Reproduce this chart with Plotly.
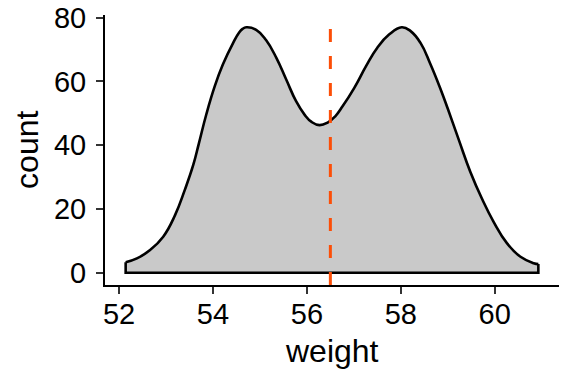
import plotly.graph_objects as go

# Density curve (scaled to count)
weight = [52.14, 52.38, 52.66, 52.94, 53.19, 53.40, 53.58, 53.70, 53.86, 54.04,
          54.21, 54.43, 54.55, 54.63, 54.71, 54.92, 55.13, 55.35, 55.56, 55.77, 55.95,
          56.10, 56.27, 56.45, 56.60, 56.76, 57.01, 57.26, 57.50, 57.75, 58.02,
          58.21, 58.42, 58.63, 58.85, 59.00, 59.24, 59.48, 59.73, 59.98, 60.26,
          60.55, 60.83, 60.93]
count = [3.3, 4.5, 7.1, 11.3, 18.0, 26.0, 33.8, 40.6, 49.8, 58.6,
         65.3, 72.1, 75.2, 76.5, 77.0, 76.2, 73.0, 67.4, 60.6, 53.8, 49.6,
         47.3, 46.3, 47.2, 49.0, 52.2, 58.0, 64.8, 70.6, 74.7, 77.0,
         75.8, 72.1, 65.5, 57.5, 51.5, 41.5, 31.7, 23.2, 15.9, 9.3,
         5.0, 3.0, 2.7]
mean_weight = 56.5
x_ticks = [52, 54, 56, 58, 60]
y_ticks = [0, 20, 40, 60, 80]
x_range = [51.70, 61.37]
y_range = [-3.85, 80.85]
x_title = "weight"
y_title = "count"

FONT = "Liberation Sans, Arial, sans-serif"

fig = go.Figure()
# filled density
fig.add_trace(go.Scatter(
    x=weight, y=count, mode="lines", fill="tozeroy",
    fillcolor="#C9C9C9",
    line=dict(color="black", width=2.6, shape="spline", smoothing=1.3),
    hoverinfo="skip", showlegend=False))
# closing edges (sides + baseline)
fig.add_trace(go.Scatter(
    x=[weight[0], weight[0], weight[-1], weight[-1]],
    y=[count[0], 0, 0, count[-1]],
    mode="lines", line=dict(color="black", width=2.6),
    hoverinfo="skip", showlegend=False))
# mean line
fig.add_trace(go.Scatter(
    x=[mean_weight, mean_weight], y=[y_range[0], y_range[1]],
    mode="lines", line=dict(color="#FC4E07", width=3, dash="13px,14px"),
    hoverinfo="skip", showlegend=False))

# page body adds an 8px offset, so the figure is 8px smaller and margins shifted
fig.update_layout(
    width=568, height=376,
    margin=dict(l=97, r=17, t=7, b=99),
    plot_bgcolor="white", paper_bgcolor="white",
    font=dict(family=FONT, color="black", size=29),
    annotations=[
        dict(text=x_title, xref="paper", yref="paper", x=0.5, y=-0.243,
             xanchor="center", yanchor="middle", showarrow=False,
             font=dict(size=32)),
        dict(text=y_title, xref="paper", yref="paper", x=-0.172, y=0.5,
             xanchor="center", yanchor="middle", showarrow=False,
             textangle=-90, font=dict(size=32)),
    ],
)
fig.update_xaxes(
    range=x_range, tickvals=x_ticks, showgrid=False, zeroline=False,
    automargin=False, ticklabeloverflow="allow",
    showline=True, linecolor="black", linewidth=2,
    ticks="outside", ticklen=7, tickwidth=1.8, tickcolor="#333333",
    tickfont=dict(size=29, color="black"), ticklabelstandoff=-5)
fig.update_yaxes(
    range=y_range, tickvals=y_ticks, showgrid=False, zeroline=False,
    automargin=False, ticklabeloverflow="allow",
    showline=True, linecolor="black", linewidth=2,
    ticks="outside", ticklen=7, tickwidth=1.8, tickcolor="#333333",
    tickfont=dict(size=29, color="black"), ticklabelstandoff=4)

fig.write_html("out.html")
